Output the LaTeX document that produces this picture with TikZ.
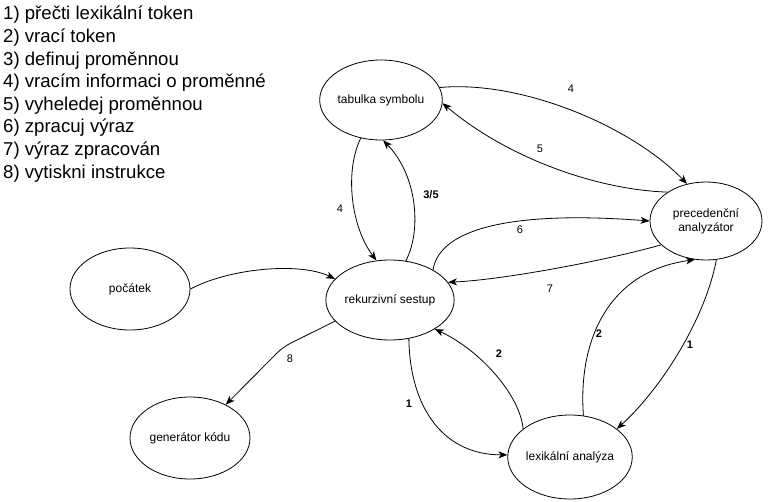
\documentclass[tikz,border=0pt]{standalone}
\usepackage{fontspec}
\setmainfont{Liberation Sans}
\usetikzlibrary{shapes.geometric,arrows.meta}
\begin{document}
\begin{tikzpicture}[x=1pt,y=-1pt,
  state/.style={draw,ellipse,line width=0.8pt,inner sep=0pt,font=\fontsize{12}{14}\selectfont,align=center},
  conn/.style={line width=0.8pt,-{Stealth[length=9pt,width=7pt,inset=2.5pt]}},
  lbl/.style={font=\fontsize{11}{13}\selectfont,inner sep=1pt},
  blbl/.style={font=\fontsize{11}{13}\selectfont\bfseries,inner sep=1pt},
  legend/.style={anchor=west,inner sep=0pt,font=\fontsize{18.6}{21}\selectfont}]
\useasboundingbox (0,0) rectangle (771,501);
% legend
\node[legend] (l1) at (3,15) {1) přečti lexikální token};
\node[legend] (l2) at (3,37.6) {2) vrací token};
\node[legend] (l3) at (3,60.2) {3) definuj proměnnou};
\node[legend] (l4) at (3,82.8) {4) vracím informaci o proměnné};
\node[legend] (l5) at (3,105.4) {5) vyheledej proměnnou};
\node[legend] (l6) at (3,128) {6) zpracuj výraz};
\node[legend] (l7) at (3,150.6) {7) výraz zpracován};
\node[legend] (l8) at (3,173.2) {8) vytiskni instrukce};
% states
\node[state,minimum width=120pt,minimum height=80pt] (tab) at (381,100) {tabulka symbolu};
\node[state,minimum width=112pt,minimum height=78pt] (pre) at (706,221) {precedenční\\analyzátor};
\node[state,minimum width=120pt,minimum height=82pt] (poc) at (130,289) {počátek};
\node[state,minimum width=120pt,minimum height=80pt] (rek) at (390,300) {rekurzivní sestup};
\node[state,minimum width=120pt,minimum height=82pt] (gen) at (190,438) {generátor kódu};
\node[state,minimum width=120pt,minimum height=84pt] (lex) at (570,457) {lexikální analýza};
% connectors
\draw[conn] (poc.0) .. controls (230,268) and (300,262) .. (rek.159);
\draw[conn] (tab.242) .. controls (345,170) and (350,225) .. (rek.109);
\draw[conn] (rek.68) .. controls (422,230) and (417,175) .. (tab.-87);
\draw[conn] (tab.12) .. controls (520,80) and (630,125) .. (pre.117);
\draw[conn] (pre.143) .. controls (600,190) and (510,160) .. (tab.-3);
\draw[conn] (rek.35) .. controls (440,226) and (520,211) .. (pre.180);
\draw[conn] (pre.208) .. controls (600,262) and (500,280) .. (rek.17);
\coordinate (bend) at (283,347);
\draw[conn,rounded corners=8pt] (rek.201) -- (bend) -- (gen.43);
\draw[conn] (rek.-64) .. controls (410,410) and (445,455) .. (lex.178);
\draw[conn] (lex.149) .. controls (520,395) and (480,350) .. (rek.-33);
\draw[conn] (lex.72) .. controls (578,345) and (605,272) .. (pre.-106);
\draw[conn] (pre.-75) .. controls (705,320) and (660,390) .. (lex.31);
% labels
\node[lbl] (t4a) at (340,209) {4};
\node[blbl] (t35) at (431,195) {3/5};
\node[lbl] (t4b) at (571,89) {4};
\node[lbl] (t5) at (540,149) {5};
\node[lbl] (t6) at (520,230) {6};
\node[lbl] (t7) at (550,289) {7};
\node[lbl] (t8) at (290,359) {8};
\node[blbl] (t1a) at (409,404) {1};
\node[blbl] (t2a) at (499,354) {2};
\node[blbl] (t2b) at (599,334) {2};
\node[blbl] (t1b) at (690,345) {1};
\end{tikzpicture}
\end{document}
